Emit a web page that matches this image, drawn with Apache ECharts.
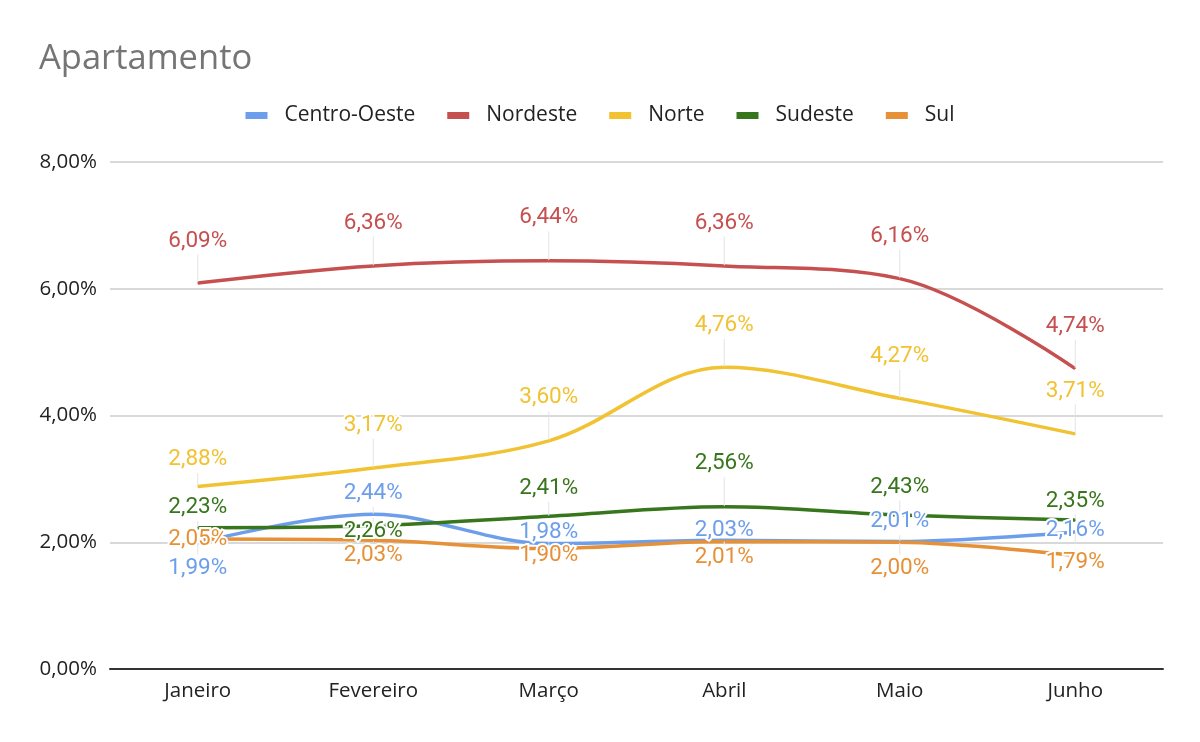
<!DOCTYPE html>
<html>
<head>
<meta charset="utf-8">
<script src="https://cdn.jsdelivr.net/npm/echarts@6/dist/echarts.min.js"></script>
<style>html,body{margin:0;padding:0;background:#fff}#c{width:1200px;height:742px}</style>
</head>
<body>
<div id="c"></div>
<script>
const categories = ['Janeiro', 'Fevereiro', 'Março', 'Abril', 'Maio', 'Junho'];
const seriesNames = ['Centro-Oeste', 'Nordeste', 'Norte', 'Sudeste', 'Sul'];
const centroOeste = [1.99, 2.44, 1.98, 2.03, 2.01, 2.16];
const nordeste = [6.09, 6.36, 6.44, 6.36, 6.16, 4.74];
const norte = [2.88, 3.17, 3.60, 4.76, 4.27, 3.71];
const sudeste = [2.23, 2.26, 2.41, 2.56, 2.43, 2.35];
const sul = [2.05, 2.03, 1.90, 2.01, 2.00, 1.79];
const yTicks = [0, 2, 4, 6, 8];

const colors = ['#6d9eeb', '#c5504f', '#f1c232', '#38761d', '#e69138'];
// label vertical displacement (layout only)
const labelDy = [
  [25, -21, -11, -10, -20, -2],
  [-42, -43, -43, -43, -42, -42],
  [-27, -43, -43, -42, -42, -43],
  [-20, 6, -28, -43, -28, -19],
  [0, 15, 7, 16, 26, 7]
];

const allData = [centroOeste, nordeste, norte, sudeste, sul];
const fmt = v => v.toFixed(2).replace('.', ',') + '%';

const chart = echarts.init(document.getElementById('c'));
chart.setOption({
  animation: false,
  backgroundColor: '#fff',
  title: {
    text: 'Apartamento', left: 34, top: 37,
    textStyle: { fontFamily: 'Open Sans', fontSize: 34.5, fontWeight: 'normal', color: '#757575' }
  },
  legend: {
    top: 100, left: 'center', itemWidth: 22, itemHeight: 7, itemGap: 32, icon: 'rect',
    data: seriesNames,
    textStyle: { fontFamily: 'Open Sans', fontSize: 21, color: '#222', padding: [0, 0, 0, 12] }
  },
  grid: { left: 110, right: 37, top: 162, bottom: 73 },
  xAxis: {
    type: 'category', data: categories, boundaryGap: true,
    axisLine: { lineStyle: { color: '#333', width: 2 } },
    axisTick: { show: false },
    axisLabel: { fontFamily: 'Open Sans', fontSize: 20.5, color: '#222', margin: 12 }
  },
  yAxis: {
    type: 'value', min: yTicks[0], max: yTicks[yTicks.length - 1], interval: 2,
    axisLine: { show: false }, axisTick: { show: false },
    splitLine: { lineStyle: { color: '#cccccc', width: 1.5 } },
    axisLabel: { fontFamily: 'Open Sans', fontSize: 20.5, color: '#222', margin: 13, formatter: v => fmt(v) }
  },
  series: allData.map((d, i) => ({
    name: seriesNames[i], type: 'line', data: d, smooth: 0.35,
    symbol: 'circle', symbolSize: 1, showSymbol: true,
    color: colors[i],
    itemStyle: { color: colors[i], borderWidth: 0 },
    lineStyle: { width: 3.5, color: colors[i] },
    label: {
      show: true, position: 'inside', formatter: p => fmt(p.value),
      fontFamily: 'Roboto', fontSize: 22.5, color: colors[i],
      textBorderColor: '#fff', textBorderWidth: 4
    },
    labelLine: { show: true, lineStyle: { color: '#e3e3e3', width: 1 } },
    labelLayout: p => ({ dy: labelDy[p.seriesIndex][p.dataIndex] })
  }))
});
</script>
</body>
</html>
